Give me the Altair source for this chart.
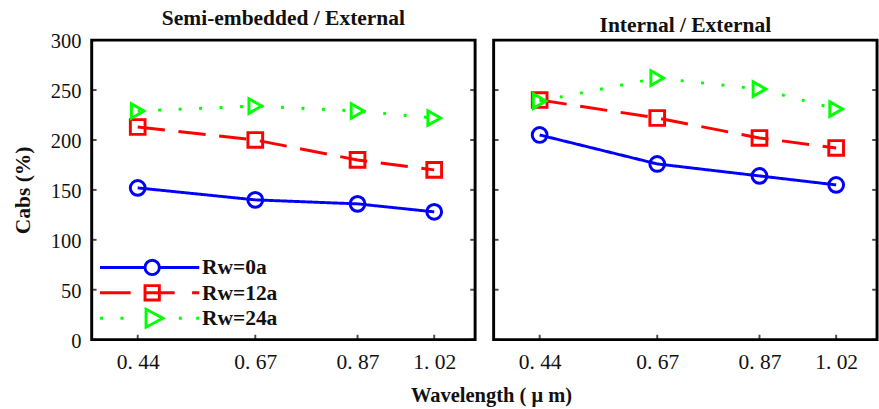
import altair as alt
import pandas as pd

# ---- data ----
wavelengths = [0.44, 0.67, 0.87, 1.02]
series_names = ["Rw=0a", "Rw=12a", "Rw=24a"]

semi_rw0 = [152, 140, 136, 128]
semi_rw12 = [213, 200, 180, 170]
semi_rw24 = [229, 234, 229, 222]

int_rw0 = [205, 176, 164, 155]
int_rw12 = [240, 222, 202, 192]
int_rw24 = [239, 262, 251, 231]

x_ticks = [0.44, 0.67, 0.87, 1.02]
y_ticks = [0, 50, 100, 150, 200, 250, 300]

panel_titles = ["Semi-embedded / External", "Internal / External"]
y_title = "Cabs (%)"
x_title = "Wavelength ( \u03bc m)"

colors = ["#0000ff", "#ff0000", "#00ff00"]
dashes = [[1, 0], [28, 14], [3, 18]]
point_shapes = ["circle", "square", "triangle-right"]
point_sizes = [230, 225, 484]

# legend symbols: line + marker drawn as one path (units of ~10 px)
legend_paths = [
    "M-5.1,0H-0.7M0.7,0H4.6M-0.7,0A0.7,0.7,0,1,0,0.7,0A0.7,0.7,0,1,0,-0.7,0",
    "M-5.1,0H-2.1M-0.7,0H2.2M3.9,0H4.6M-0.7,-0.7H0.7V0.7H-0.7Z",
    "M-5.1,0h0.3M-3.1,0h0.3M2.6,0h0.3M4.3,0h0.3M-0.6,-0.88L1.05,0L-0.6,0.88Z",
]

SERIF = "Liberation Serif"
XDOM = [0.35, 1.1]
YDOM = [0, 300]


def make_df(vals):
    rows = []
    for name, v in zip(series_names, vals):
        for w, y in zip(wavelengths, v):
            rows.append({"wl": w, "val": y, "series": name})
    return pd.DataFrame(rows)


df_semi = make_df([semi_rw0, semi_rw12, semi_rw24])
df_int = make_df([int_rw0, int_rw12, int_rw24])
df_xt = pd.DataFrame({"t": x_ticks})
df_yt = pd.DataFrame({"t": y_ticks})

color_scale = alt.Scale(domain=series_names, range=colors)


def panel(df, title, left):
    xenc = alt.X(
        "wl:Q",
        scale=alt.Scale(domain=XDOM, nice=False, zero=False),
        axis=alt.Axis(
            values=x_ticks,
            title=None,
            grid=False,
            domain=False,
            ticks=False,
            labelPadding=13,
            labelFont=SERIF,
            labelFontSize=22,
            labelColor="#111",
            labelExpr="replace(format(datum.value, '.2f'), '.', '. ')",
        ),
    )
    if left:
        yaxis = alt.Axis(
            values=y_ticks,
            title=y_title,
            grid=False,
            domain=False,
            ticks=False,
            labelPadding=11,
            labelFont=SERIF,
            labelFontSize=21,
            labelColor="#111",
            labelBaseline="middle",
            labelOffset=2,
            titleFont=SERIF,
            titleFontSize=22,
            titleFontWeight="bold",
            titleColor="#111",
            titlePadding=16,
        )
    else:
        yaxis = None
    yenc = alt.Y("val:Q", scale=alt.Scale(domain=YDOM, nice=False), axis=yaxis)

    base = alt.Chart(df)
    lines = base.mark_line(strokeWidth=3).encode(
        x=xenc,
        y=yenc,
        color=alt.Color("series:N", scale=color_scale, legend=None),
        strokeDash=alt.StrokeDash(
            "series:N", scale=alt.Scale(domain=series_names, range=dashes), legend=None
        ),
    )
    points = base.mark_point(filled=False, strokeWidth=3, opacity=1).encode(
        x="wl:Q",
        y="val:Q",
        color=alt.Color("series:N", scale=color_scale, legend=None),
        shape=alt.Shape(
            "series:N",
            scale=alt.Scale(domain=series_names, range=point_shapes),
            legend=None,
        ),
        size=alt.Size(
            "series:N",
            scale=alt.Scale(domain=series_names, range=point_sizes),
            legend=None,
        ),
    )
    xt = alt.Chart(df_xt).mark_tick(
        orient="vertical", size=5, thickness=2, yOffset=-2.5, color="black"
    ).encode(x="t:Q", y=alt.datum(0))
    ytl = alt.Chart(df_yt).mark_tick(
        orient="horizontal", size=5, thickness=2, xOffset=2.5, color="black"
    ).encode(y="t:Q", x=alt.datum(XDOM[0]))
    ytr = alt.Chart(df_yt).mark_tick(
        orient="horizontal", size=5, thickness=2, xOffset=-2.5, color="black"
    ).encode(y="t:Q", x=alt.datum(XDOM[1]))

    layers = [lines, points, xt, ytl, ytr]
    if left:
        leg = base.mark_point(filled=False, opacity=0).encode(
            x="wl:Q",
            y="val:Q",
            color=alt.Color(
                "series:N",
                scale=alt.Scale(domain=series_names, range=colors),
                legend=alt.Legend(
                    title=None,
                    orient="none",
                    legendX=50,
                    legendY=221,
                    symbolSize=440,
                    symbolStrokeWidth=3,
                    symbolOpacity=1,
                    labelOffset=39,
                    labelFont=SERIF,
                    labelFontSize=22,
                    labelFontWeight="bold",
                    labelColor="#111",
                    rowPadding=-8,
                ),
            ),
            shape=alt.Shape(
                "series:N",
                scale=alt.Scale(domain=series_names, range=legend_paths),
            ),
        )
        layers.append(leg)

    ch = alt.layer(*layers).properties(
        width=393,
        height=307,
        title=alt.TitleParams(
            title,
            font=SERIF,
            fontSize=22,
            fontWeight="bold",
            color="#111",
            anchor="middle",
            offset=2,
        ),
    )
    if left:
        ch = ch.resolve_scale(color="independent", shape="independent")
    return ch


left = panel(df_semi, panel_titles[0], True)
right = panel(df_int, panel_titles[1], False)

chart = (
    alt.hconcat(left, right, spacing=15)
    .properties(
        background="white",
        padding={"left": 11, "top": 0, "right": 0, "bottom": 0},
        title=alt.TitleParams(
            x_title,
            orient="bottom",
            anchor="middle",
            font=SERIF,
            fontSize=21,
            fontWeight="bold",
            color="#111",
            offset=11,
            dx=48,
        ),
    )
    .configure_view(stroke="black", strokeWidth=3)
)

chart.save("out.html", embed_options={"renderer": "svg", "actions": False})
